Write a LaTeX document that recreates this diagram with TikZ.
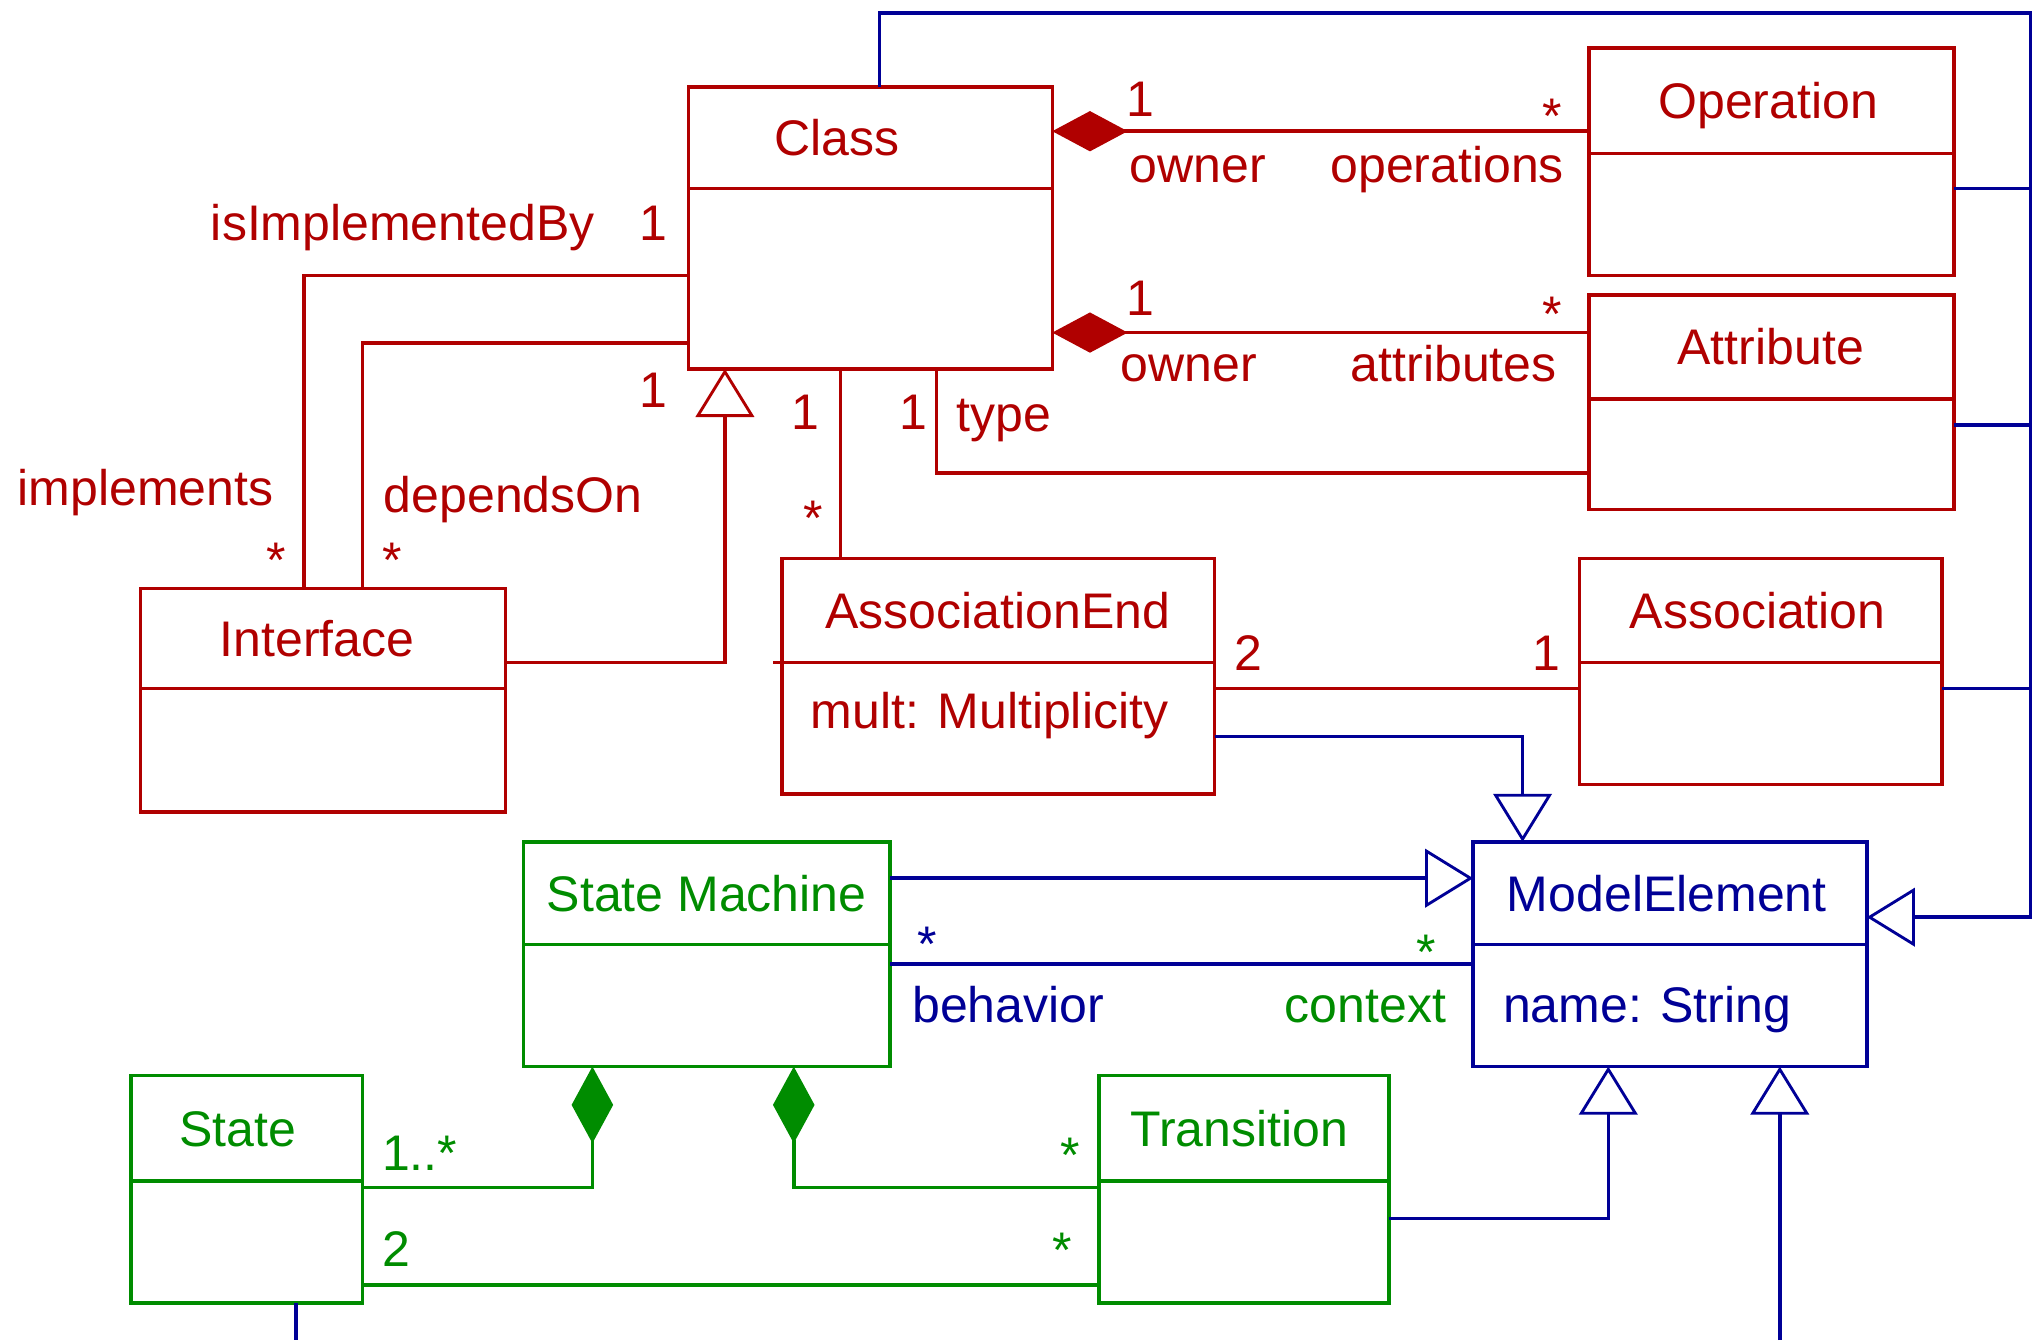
\documentclass[tikz,border=0pt]{standalone}
\usepackage{fontspec}
\setmainfont{Liberation Sans}
\usetikzlibrary{arrows.meta}
\definecolor{cr}{HTML}{B00000}
\definecolor{cb}{HTML}{000096}
\definecolor{cg}{HTML}{008C00}
\newcommand{\umlcls}[9]{%
  \node[umlbox, draw=#2, minimum width={(#5-#3)*1pt}, minimum height={(#6-#4)*1pt}, anchor=north west] (#1) at (#3,#4) {};
  \draw[#2, conn] (#1.west |- 0,#7) -- (#1.east |- 0,#7);
  \node[lbl, text=#2] (#1-title) at (#8, {(#4+#7)/2}) {#9};
}
\begin{document}
\begin{tikzpicture}[x=1pt, y=-1pt,
  umlbox/.style={line width=2.7pt, inner sep=0pt, outer sep=0pt},
  conn/.style={line width=2.7pt},
  lbl/.style={inner sep=0pt, outer sep=0pt, font=\fontsize{38.5}{44}\selectfont, text height=27.7pt, text depth=0pt},
  star/.style={lbl, yshift=-8.6pt},
  gen/.style={-{Triangle[open, length=37pt, width=45pt, line width=2.2pt]}},
  comp/.style={{Diamond[length=58pt, width=31pt]}-},
]
\useasboundingbox (0,0) rectangle (1568,1031.5);

% ---------- classes ----------
\umlcls{class}{cr}{530}{67}{810}{284}{145}{644}{Class}
\umlcls{op}{cr}{1223}{37}{1504}{212}{118}{1361}{Operation}
\umlcls{attr}{cr}{1223}{227}{1504}{392}{307}{1363}{Attribute}
\umlcls{iface}{cr}{108}{453}{389}{625}{530}{244}{Interface}
\umlcls{ae}{cr}{602}{430}{935}{611}{510}{768}{AssociationEnd}
\umlcls{assoc}{cr}{1216}{430}{1495}{604}{510}{1353}{Association}
\umlcls{me}{cb}{1134}{648}{1437}{821}{727}{1283}{ModelElement}
\umlcls{sm}{cg}{403}{648}{685}{821}{727}{544}{State Machine}
\umlcls{st}{cg}{101}{828}{279}{1003}{909}{183}{State}
\umlcls{tr}{cg}{846}{828}{1069}{1003}{909}{954}{Transition}

\node[lbl, text=cr, anchor=west] (ae-attr) at (624,547) {mult: Multiplicity};
\node[lbl, text=cb, anchor=west] (me-attr) at (1157,773) {name: String};
\draw[cr, conn] (ae.west |- 0,510) -- ++(-7,0);

% ---------- red connectors ----------
\draw[cr, conn, comp] (class.east |- 0,101) -- (op.west |- 0,101);
\draw[cr, conn, comp] (class.east |- 0,256) -- (attr.west |- 0,256);
\draw[cr, conn] (class.south -| 721,0) |- (attr.west |- 0,364);
\draw[cr, conn] (class.south -| 647,0) -- (ae.north -| 647,0);
\draw[cr, conn, gen] (iface.east |- 0,510) -| (class.south -| 558,0);
\draw[cr, conn] (class.west |- 0,212) -| (iface.north -| 234,0);
\draw[cr, conn] (class.west |- 0,264) -| (iface.north -| 279,0);
\draw[cr, conn] (ae.east |- 0,530) -- (assoc.west |- 0,530);

% ---------- blue connectors ----------
\coordinate (rt) at (1563,10);
\coordinate (r1) at (1563,145);
\coordinate (r2) at (1563,327);
\coordinate (r3) at (1563,530);
\coordinate (b1) at (1370,1031.5);
\coordinate (b2) at (228,1031.5);
\draw[cb, conn, gen] (class.north -| 677,0) |- (rt) |- (me.east |- 0,706);
\draw[cb, conn] (op.east |- 0,145) -- (r1);
\draw[cb, conn] (attr.east |- 0,327) -- (r2);
\draw[cb, conn] (assoc.east |- 0,530) -- (r3);
\draw[cb, conn, gen] (ae.east |- 0,567) -| (me.north -| 1172,0);
\draw[cb, conn, gen] (sm.east |- 0,676) -- (me.west |- 0,676);
\draw[cb, conn] (sm.east |- 0,742) -- (me.west |- 0,742);
\draw[cb, conn, gen] (tr.east |- 0,938) -| (me.south -| 1238,0);
\draw[cb, conn, gen] (b1) -- (me.south -| 1370,0);
\draw[cb, conn] (st.south -| 228,0) -- (b2);

% ---------- green connectors ----------
\draw[cg, conn, {Diamond[length=59pt, width=32pt]}-] (sm.south -| 456,0) |- (st.east |- 0,914);
\draw[cg, conn, {Diamond[length=59pt, width=32pt]}-] (sm.south -| 611,0) |- (tr.west |- 0,914);
\draw[cg, conn] (st.east |- 0,989) -- (tr.west |- 0,989);

% ---------- labels ----------
\node[lbl, text=cr] (l1) at (878,76) {1};
\node[star, text=cr] (l2) at (1195,80) {*};
\node[lbl, text=cr] (l3) at (922,127) {owner};
\node[lbl, text=cr] (l4) at (1114,127) {operations};
\node[lbl, text=cr] (l5) at (878,229) {1};
\node[star, text=cr] (l6) at (1195,233) {*};
\node[lbl, text=cr] (l7) at (915,280) {owner};
\node[lbl, text=cr] (l8) at (1119,280) {attributes};
\node[lbl, text=cr] (l9) at (310,171) {isImplementedBy};
\node[lbl, text=cr] (l10) at (503,171) {1};
\node[lbl, text=cr] (l11) at (112,375) {implements};
\node[star, text=cr] (l12) at (213,422) {*};
\node[lbl, text=cr] (l13) at (395,381) {dependsOn};
\node[star, text=cr] (l14) at (302,422) {*};
\node[lbl, text=cr] (l15) at (503,300) {1};
\node[lbl, text=cr] (l16) at (620,317) {1};
\node[star, text=cr] (l17) at (626,390) {*};
\node[lbl, text=cr] (l18) at (703,317) {1};
\node[lbl, text=cr] (l19) at (773,318) {type};
\node[lbl, text=cr] (l20) at (961,502) {2};
\node[lbl, text=cr] (l21) at (1190,502) {1};
\node[star, text=cb] (l22) at (714,718) {*};
\node[lbl, text=cb] (l23) at (776,773) {behavior};
\node[star, text=cg] (l24) at (1098,724) {*};
\node[lbl, text=cg] (l25) at (1051,773) {context};
\node[lbl, text=cg] (l26) at (323,887) {1..*};
\node[star, text=cg] (l27) at (824,880) {*};
\node[lbl, text=cg] (l28) at (305,961) {2};
\node[star, text=cg] (l29) at (818,953) {*};
\end{tikzpicture}
\end{document}
